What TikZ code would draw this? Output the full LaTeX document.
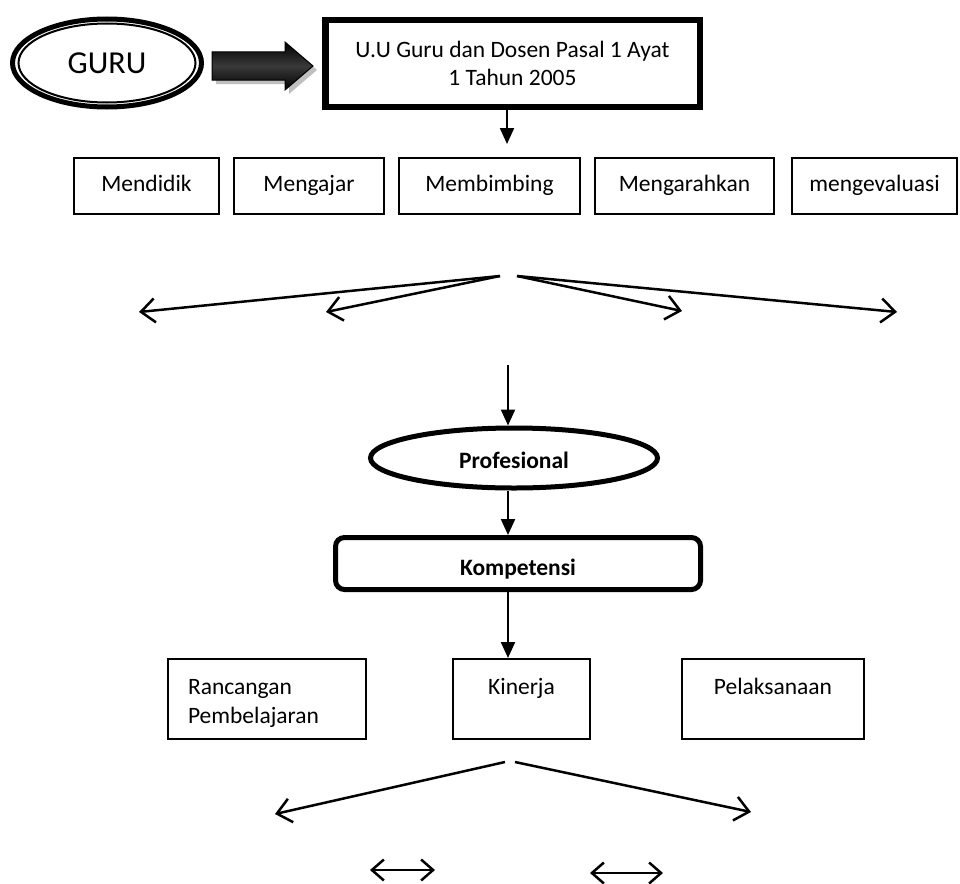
\documentclass[tikz,border=0pt]{standalone}
\usepackage{fontspec}
\setmainfont{Carlito}
\usetikzlibrary{arrows.meta,shapes.geometric}
\begin{document}
\begin{tikzpicture}[x=1pt,y=-1pt,
  txt/.style={font=\fontsize{23.5}{28.5}\selectfont},
  boldtxt/.style={font=\fontsize{23.5}{28.5}\selectfont\bfseries},
  rowbox/.style={txt, draw, line width=2pt, rectangle, minimum height=56pt, inner sep=0pt,
                 text height=17pt, text depth=6pt},
  btmbox/.style={txt, draw, line width=2pt, rectangle, minimum height=80pt, inner sep=0pt},
  tri/.style={line width=2.2pt, -{Triangle[length=16pt,width=14pt]}},
  barb/.style={line width=2.5pt, -{Straight Barb[length=14pt,width=24pt]}},
  dbl/.style={line width=2.5pt, {Straight Barb[length=12pt,width=21pt]}-{Straight Barb[length=12pt,width=21pt]}}]
\useasboundingbox (0,0) rectangle (960,883);
\fill[white] (0,0) rectangle (960,883);

% GURU
\node[draw, ellipse, line width=2pt, minimum width=177pt, minimum height=79pt, inner sep=0pt,
      font=\fontsize{32}{38}\selectfont] (guru) at (107,63) {GURU};
\draw[line width=5pt] (guru.center) ellipse [x radius=94.5, y radius=44];

% big arrow
\fill[gray!50] (216,56) -- (289,56) -- (289,46) -- (317,70) -- (289,94) -- (289,84) -- (216,84) -- cycle;
\shade[top color=black, bottom color=black, middle color=gray!45!black, draw=black, line width=1pt]
  (212,52) -- (285,52) -- (285,42) -- (313,66) -- (285,90) -- (285,80) -- (212,80) -- cycle;

% top box
\node[txt, draw, line width=6.5pt, minimum width=374.5pt, minimum height=86.5pt, align=center, inner sep=0pt]
  (uu) at (512.5,63.5) {U.U Guru dan Dosen Pasal 1 Ayat\\1 Tahun 2005};
\coordinate (t1) at (507,144);
\draw[tri] (uu.south -| t1) -- (t1);

% row boxes
\node[rowbox, minimum width=145pt] (mendidik) at (146.5,186) {Mendidik};
\node[rowbox, minimum width=150pt] (mengajar) at (309,186) {Mengajar};
\node[rowbox, minimum width=181pt] (membimbing) at (489.5,186) {Membimbing};
\node[rowbox, minimum width=179pt] (mengarahkan) at (684.5,186) {Mengarahkan};
\node[rowbox, minimum width=165pt] (mengevaluasi) at (874.5,186) {mengevaluasi};

% fan 1
\coordinate (fl) at (500,276);
\coordinate (fr) at (517,276);
\coordinate (f1) at (139,312);
\coordinate (f2) at (326,312);
\coordinate (f3) at (682,311);
\coordinate (f4) at (897,312);
\draw[barb] (fl) -- (f1);
\draw[barb] (fl) -- (f2);
\draw[barb] (fr) -- (f3);
\draw[barb] (fr) -- (f4);

% Profesional
\coordinate (p0) at (508,365);
\node[boldtxt, draw, ellipse, line width=5pt, minimum width=287pt, minimum height=60pt, inner sep=0pt,
      text height=22pt, text depth=1pt]
  (prof) at (514,458) {Profesional};
\draw[tri] (p0) -- (p0 |- prof.north);

% Kompetensi
\node[boldtxt, draw, line width=5pt, rounded corners=9pt, minimum width=365pt, minimum height=52pt, inner sep=0pt,
      text height=26pt, text depth=2pt]
  (komp) at (518,563.5) {Kompetensi};
\draw[tri] (p0 |- prof.south) -- (p0 |- komp.north);

% bottom boxes
\node[btmbox, minimum width=198pt] (ranc) at (267,699)
  {\parbox[c][48pt][t]{158pt}{\strut Rancangan\\Pembelajaran}};
\node[btmbox, minimum width=137pt] (kin) at (521.5,699)
  {\parbox[c][48pt][t]{120pt}{\centering\strut Kinerja}};
\node[btmbox, minimum width=182pt] (pel) at (773,699)
  {\parbox[c][48pt][t]{160pt}{\centering\strut Pelaksanaan}};
\draw[tri] (p0 |- komp.south) -- (p0 |- kin.north);

% fan 2
\coordinate (bl) at (505,762);
\coordinate (br) at (515,762);
\coordinate (b1) at (275,814);
\coordinate (b2) at (751,812);
\draw[barb] (bl) -- (b1);
\draw[barb] (br) -- (b2);

% double arrows
\coordinate (d1a) at (370,870);
\coordinate (d1b) at (435,870);
\coordinate (d2a) at (590,873);
\coordinate (d2b) at (663,873);
\draw[dbl] (d1a) -- (d1b);
\draw[dbl] (d2a) -- (d2b);
\end{tikzpicture}
\end{document}
